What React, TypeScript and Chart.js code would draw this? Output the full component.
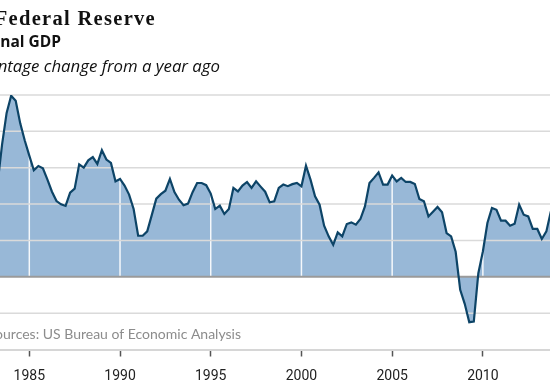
import React, { useEffect, useRef } from "react";
import { Chart, registerables } from "chart.js";

Chart.register(...registerables);

// Nominal GDP, percentage change from a year ago (quarterly, first quarter = 1983 Q2)
const firstQuarter = 1983.25;
const gdpGrowth: number[] = [
  6.4, 9.1, 11.27, // 1983 Q2-Q4
  12.45, 12.1, 10.55, 9.37, // 1984
  8.33, 7.32, 7.62, 7.46, // 1985
  6.68, 5.85, 5.21, 4.98, // 1986
  4.87, 5.79, 6.06, 7.73, // 1987
  7.51, 8.01, 8.23, 7.76, // 1988
  8.7, 8.06, 7.83, 6.56, // 1989
  6.73, 6.27, 5.65, 4.66, // 1990
  2.82, 2.82, 3.12, 4.24, // 1991
  5.37, 5.68, 5.92, 6.73, // 1992
  5.82, 5.3, 4.92, 5.03, // 1993
  5.82, 6.45, 6.45, 6.3, // 1994
  5.72, 4.66, 4.89, 4.32, // 1995
  4.66, 6.11, 5.87, 6.27, // 1996
  6.52, 6.11, 6.56, 6.2, // 1997
  5.85, 5.12, 5.19, 6.11, // 1998
  6.34, 6.23, 6.37, 6.45, // 1999
  6.22, 7.64, 6.68, 5.53, // 2000
  4.96, 3.51, 2.78, 2.2, // 2001
  3.05, 2.78, 3.63, 3.74, // 2002
  3.58, 3.97, 4.84, 6.45, // 2003
  6.8, 7.18, 6.34, 6.34, // 2004
  6.96, 6.56, 6.8, 6.52, // 2005
  6.52, 6.38, 5.35, 5.19, // 2006
  4.15, 4.48, 4.8, 4.43, // 2007
  3.01, 2.78, 1.72, -0.9, // 2008
  -1.86, -3.12, -3.08, 0.25, // 2009
  1.74, 3.7, 4.73, 4.61, // 2010
  3.86, 3.86, 3.51, 3.65, // 2011
  4.96, 4.27, 4.15, 3.29, // 2012
  3.29, 2.6, 3.12, 4.5, // 2013
  4.0, // 2014 Q1
];

const xTickYears = [1985, 1990, 1995, 2000, 2005, 2010];
const yGridValues = [-2.5, 2.5, 5, 7.5, 10, 12.5];
const xMin = 1983.385;
const xMax = 2013.7;
const yMin = -5;
const yMax = 12.5;

const titleText = "Federal Reserve";
const subtitleText = "Nominal GDP";
const unitText = "Percentage change from a year ago";
const sourceText = "Sources: US Bureau of Economic Analysis";

const LINE_COLOR = "#0d4467";
const FILL_COLOR = "#98b8d7";

const overlayPlugin = {
  id: "overlay",
  afterDatasetDraw(chart: any, args: any) {
    if (args.index !== 1) return;
    const { ctx, chartArea, scales } = chart;
    const xs = scales.x;
    const ys = scales.y;
    const y0 = ys.getPixelForValue(0);
    ctx.save();
    // vertical white lines (only visible over the fill)
    ctx.strokeStyle = "rgba(255,255,255,0.9)";
    ctx.lineWidth = 1.5;
    for (const t of xTickYears) {
      const px = xs.getPixelForValue(t);
      ctx.beginPath();
      ctx.moveTo(px, chartArea.top);
      ctx.lineTo(px, y0);
      ctx.stroke();
    }
    // horizontal grid lines
    ctx.strokeStyle = "#dadada";
    ctx.lineWidth = 1.5;
    for (const v of yGridValues) {
      const py = ys.getPixelForValue(v);
      ctx.beginPath();
      ctx.moveTo(chartArea.left, py);
      ctx.lineTo(chartArea.right, py);
      ctx.stroke();
    }
    // zero line
    ctx.strokeStyle = "#9a9a9a";
    ctx.lineWidth = 2;
    ctx.beginPath();
    ctx.moveTo(chartArea.left, y0);
    ctx.lineTo(chartArea.right, y0);
    ctx.stroke();
    ctx.restore();
  },
  afterDraw(chart: any) {
    const { ctx } = chart;
    ctx.save();
    ctx.textAlign = "right";
    ctx.textBaseline = "alphabetic";
    ctx.fillStyle = "#111";
    ctx.font = "bold 20.5px 'Liberation Serif', serif";
    (ctx as any).letterSpacing = "1.3px";
    ctx.fillText(titleText, 156, 25);
    (ctx as any).letterSpacing = "0px";
    ctx.font = "bold 15.5px 'Open Sans', sans-serif";
    ctx.fillText(subtitleText, 61, 47);
    ctx.font = "italic 16.8px 'Open Sans', sans-serif";
    ctx.fillText(unitText, 220, 72);
    ctx.fillStyle = "#8c8c8c";
    ctx.font = "14px Lato, sans-serif";
    ctx.fillText(sourceText, 241, 339);
    ctx.restore();
  },
};

export default function App() {
  const canvasRef = useRef<HTMLCanvasElement | null>(null);

  useEffect(() => {
    document.body.style.margin = "0";
    const canvas = canvasRef.current;
    if (!canvas) return;
    const points = gdpGrowth.map((v, i) => ({ x: firstQuarter + i * 0.25, y: v }));
    const chart = new Chart(canvas, {
      type: "line",
      data: {
        datasets: [
          {
            label: "line",
            data: points,
            borderColor: LINE_COLOR,
            borderWidth: 2.2,
            fill: false,
            pointRadius: 0,
            tension: 0,
          },
          {
            label: "fill",
            data: points,
            borderColor: "transparent",
            borderWidth: 0,
            backgroundColor: FILL_COLOR,
            fill: "origin",
            pointRadius: 0,
            tension: 0,
          },
        ],
      },
      options: {
        animation: false,
        responsive: false,
        devicePixelRatio: 1,
        layout: { padding: { top: 95, left: 0, right: 0, bottom: 7.5 } },
        plugins: {
          legend: { display: false },
          tooltip: { enabled: false },
        },
        scales: {
          x: {
            type: "linear",
            min: xMin,
            max: xMax,
            afterBuildTicks: (scale: any) => {
              scale.ticks = xTickYears.map((v) => ({ value: v }));
            },
            afterFit: (scale: any) => {
              scale.height = 33;
            },
            grid: {
              display: true,
              drawOnChartArea: false,
              drawTicks: true,
              tickLength: 7,
              tickColor: "#555",
              tickWidth: 1.5,
            },
            border: { display: true, color: "#d6d6d6", width: 2 },
            ticks: {
              autoSkip: false,
              maxRotation: 0,
              padding: 12,
              color: "#222",
              font: { family: "Roboto", size: 14 },
              callback: (v: any) => String(v),
            },
          },
          y: {
            type: "linear",
            display: false,
            min: yMin,
            max: yMax,
          },
        },
      },
      plugins: [overlayPlugin],
    });
    return () => chart.destroy();
  }, []);

  return (
    <div style={{ width: 550, height: 390 }}>
      <canvas ref={canvasRef} width={550} height={390} style={{ display: "block" }} />
    </div>
  );
}
